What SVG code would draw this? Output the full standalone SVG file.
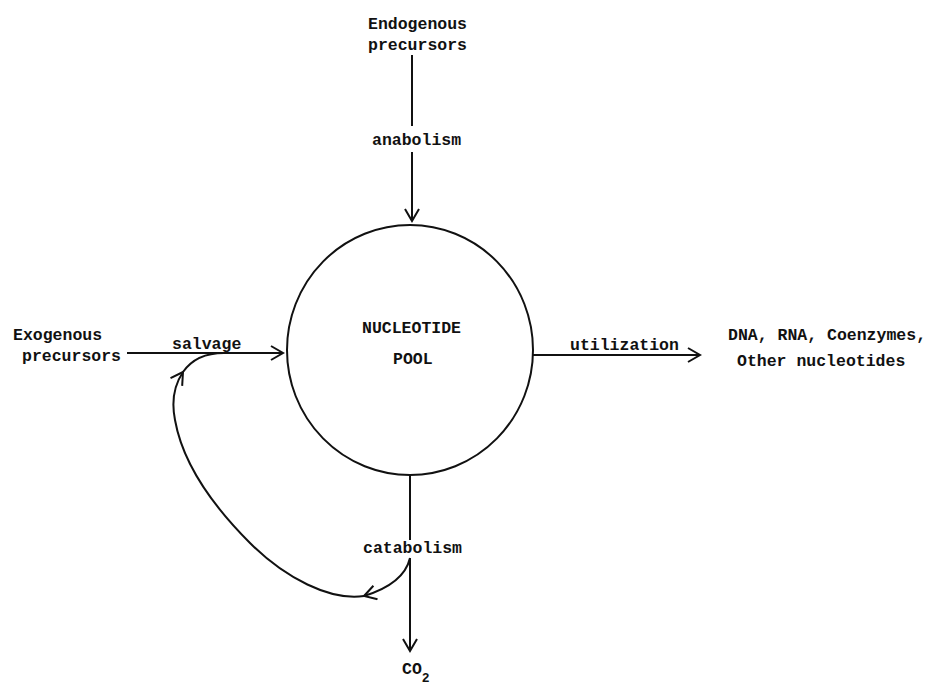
<svg xmlns="http://www.w3.org/2000/svg" width="928" height="686" viewBox="0 0 928 686">
<style>
text{font-family:"Liberation Mono","DejaVu Sans Mono",monospace;font-size:16.5px;font-weight:bold;fill:#111}
.ln{fill:none;stroke:#111;stroke-width:2}
</style>
<defs>
<marker id="ah" viewBox="-14 -8 16 16" markerWidth="16" markerHeight="16" markerUnits="userSpaceOnUse" refX="0" refY="0" orient="auto">
<path d="M-12,-7 L0,0 L-12,7" fill="none" stroke="#111" stroke-width="2"/>
</marker>
</defs>
<rect width="928" height="686" fill="#fff"/>
<g id="pool">
<ellipse cx="410" cy="350" rx="123" ry="125" class="ln"/>
<text x="362" y="333">NUCLEOTIDE</text>
<text x="393" y="364">POOL</text>
</g>
<g id="endogenous">
<text x="368" y="29">Endogenous</text>
<text x="368" y="50">precursors</text>
</g>
<g id="exogenous">
<text x="13" y="340">Exogenous</text>
<text x="22" y="361">precursors</text>
</g>
<g id="products">
<text x="728" y="340">DNA, RNA, Coenzymes,</text>
<text x="737" y="366">Other nucleotides</text>
</g>
<g id="co2">
<text x="402" y="674">CO<tspan font-size="13" dy="8">2</tspan></text>
</g>
<g id="connectors">
<line x1="412" y1="55" x2="412" y2="126" class="ln"/>
<text x="372" y="145">anabolism</text>
<line x1="412" y1="152" x2="412" y2="221" class="ln" marker-end="url(#ah)"/>
<line x1="127" y1="353" x2="283" y2="353" class="ln" marker-end="url(#ah)"/>
<text x="172" y="349">salvage</text>
<line x1="532" y1="355" x2="700" y2="355" class="ln" marker-end="url(#ah)"/>
<text x="570" y="350">utilization</text>
<line x1="410" y1="475" x2="410" y2="540" class="ln"/>
<text x="363" y="553">catabolism</text>
<line x1="410" y1="558" x2="410" y2="651" class="ln" marker-end="url(#ah)"/>
<path d="M410,558 C406,575 390,588 364,596" class="ln" marker-end="url(#ah)"/>
<path d="M364,596 C330,601 285,578 250,543 C215,508 183,465 175,420 C171,400 175,384 183,372" class="ln" marker-end="url(#ah)"/>
<path d="M183,372 C192,359 205,353 224,353" class="ln"/>
</g>
</svg>
